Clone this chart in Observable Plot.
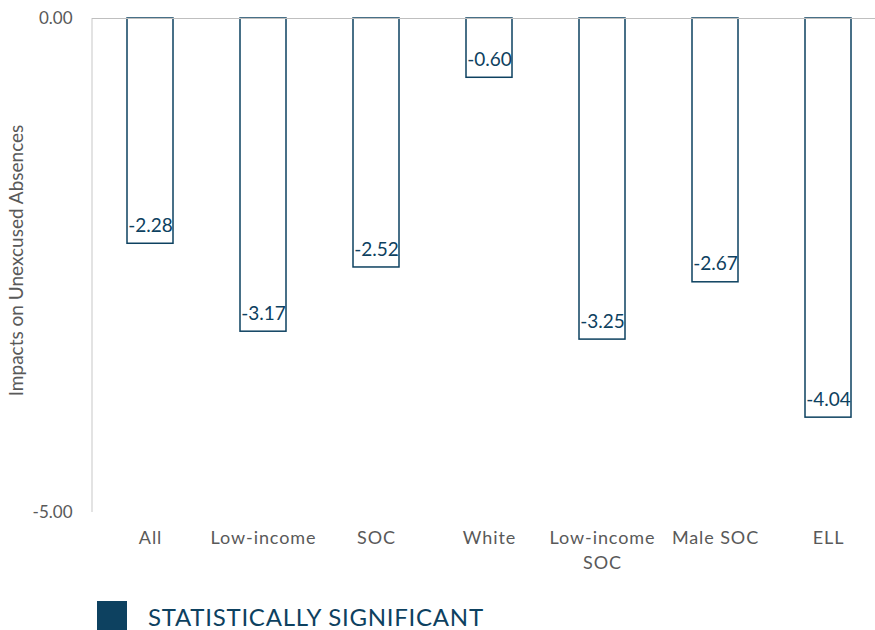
<!DOCTYPE html>
<html>
<head>
<meta charset="utf-8">
<script src="https://cdn.jsdelivr.net/npm/d3@7"></script>
<script src="https://cdn.jsdelivr.net/npm/@observablehq/plot@0.6"></script>
<style>
  body { margin: 0; background: #fff; font-family: Lato, "Open Sans", sans-serif; }
  #legend { display: flex; align-items: center; margin-left: 97px; margin-top: 6px; }
  #legend .sw { width: 30px; height: 30px; background: #0d4160; flex: none; }
  #legend .lb { margin-left: 21px; color: #0d4160; font-size: 24px; letter-spacing: 0.75px; line-height: 30px; padding-top: 2px; }
</style>
</head>
<body>
<div id="chart"></div>
<div id="legend"><div class="sw"></div><div class="lb">STATISTICALLY SIGNIFICANT</div></div>
<script>
const categories = ["All", "Low-income", "SOC", "White", "Low-income\nSOC", "Male SOC", "ELL"];
const impacts = [-2.28, -3.17, -2.52, -0.60, -3.25, -2.67, -4.04];
const yTicks = [0, -5];
const yLabel = "Impacts on Unexcused Absences";

const data = categories.map((c, i) => ({category: c, value: impacts[i]}));
const teal = "#0d4160";
const grey = "#595959";

const yAxisLine = (index, scales, values, dimensions) => {
  const x = dimensions.marginLeft;
  return d3.create("svg:line")
    .attr("x1", x).attr("x2", x)
    .attr("y1", scales.y(0)).attr("y2", scales.y(-5))
    .attr("stroke", "#d0d0d0").attr("stroke-width", 1.2)
    .node();
};

const plot = Plot.plot({
  width: 875,
  height: 594,
  marginTop: 18,
  marginBottom: 82,
  marginLeft: 92,
  marginRight: 0,
  style: {fontFamily: "Lato, 'Open Sans', sans-serif", background: "#fff"},
  x: {domain: categories, range: [93, 886], paddingInner: 0.59, paddingOuter: 0.295, label: null},
  y: {domain: [-5, 0], label: null},
  marks: [
    yAxisLine,
    Plot.barY(data, {x: "category", y1: 0, y2: "value", fill: "white", stroke: teal, strokeWidth: 1.5}),
    Plot.ruleY([0], {stroke: "#bfbfbf", strokeWidth: 1.2}),
    Plot.text(data, {x: "category", y: "value", text: d => d.value.toFixed(2), dy: -18, fill: teal, fontSize: 19}),
    Plot.axisY({ticks: yTicks, tickFormat: d => d.toFixed(2), tickSize: 0, tickPadding: 20, fontSize: 17, color: grey, label: null}),
    Plot.axisX({tickSize: 0, tickPadding: 14, fontSize: 18, color: grey, lineHeight: 1.39, label: null}),
    Plot.text([yLabel], {ariaLabel: "ylabel", frameAnchor: "left", textAnchor: "middle", dx: -76, dy: -5, rotate: -90, fontSize: 19, fill: grey})
  ]
});
d3.select(plot).selectAll("g[aria-label='ylabel'] text").style("letter-spacing", "2.2px");
d3.select(plot).selectAll("g[aria-label='x-axis tick label'] text").style("letter-spacing", "0.9px");
document.getElementById("chart").appendChild(plot);
</script>
</body>
</html>
